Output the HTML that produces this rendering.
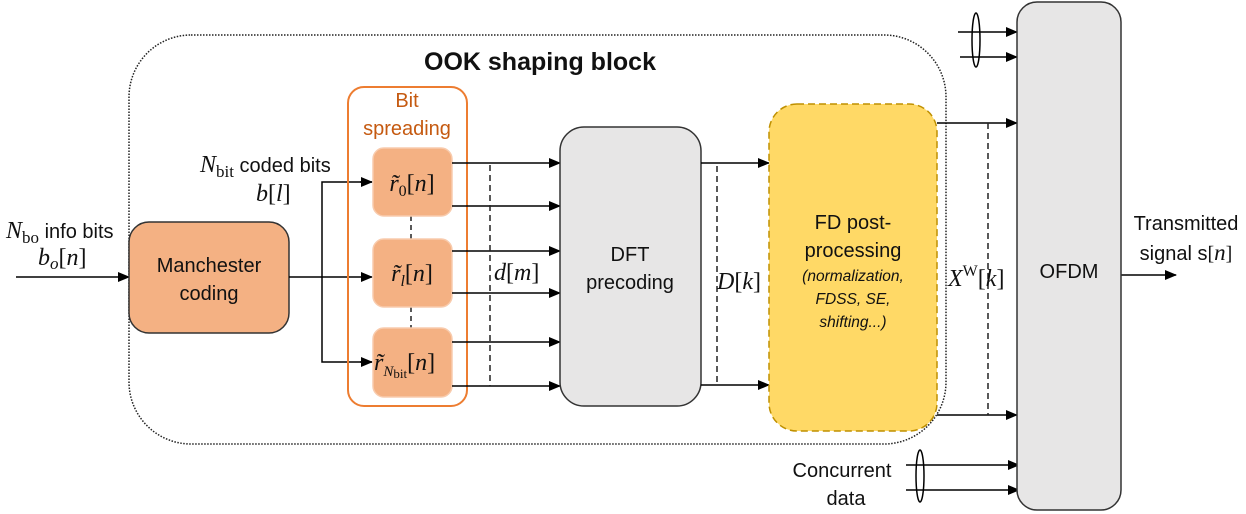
<!DOCTYPE html>
<html><head><meta charset="utf-8"><style>
html,body{margin:0;padding:0;background:#fff;}
svg{display:block;}
.t{font-family:"Liberation Sans",sans-serif;fill:#111;}
.m{font-family:"Liberation Serif",serif;font-style:italic;fill:#111;}
.r{font-family:"Liberation Serif",serif;fill:#111;}
</style></head><body>
<svg width="1246" height="514" viewBox="0 0 1246 514" xmlns="http://www.w3.org/2000/svg">
<defs>
<marker id="a" markerWidth="12" markerHeight="10" refX="11" refY="5" orient="auto" markerUnits="userSpaceOnUse">
<path d="M0,0 L12,5 L0,10 z" fill="#000"/></marker>
</defs>
<rect x="129" y="35" width="817" height="409" rx="62" fill="none" stroke="#222" stroke-width="1.5" stroke-dasharray="1.5 1.5"/>
<text x="540" y="70" text-anchor="middle" class="t" font-size="25" font-weight="bold">OOK shaping block</text>

<line x1="16" y1="277" x2="129" y2="277" stroke="#000" stroke-width="1.5" marker-end="url(#a)"/>
<text x="6" y="238" class="m" font-size="24">N<tspan class="r" font-style="normal" font-size="17" dy="5">bo</tspan><tspan class="t" font-style="normal" font-size="20" dy="-5"> info bits</tspan></text>
<text x="38" y="265" class="m" font-size="24">b<tspan font-size="17" dy="4">o</tspan><tspan class="r" font-style="normal" dy="-4">[</tspan>n<tspan class="r" font-style="normal">]</tspan></text>

<rect x="129" y="222" width="160" height="111" rx="20" fill="#f4b183" stroke="#333" stroke-width="1.5"/>
<text x="209" y="272" text-anchor="middle" class="t" font-size="20">Manchester</text>
<text x="209" y="300" text-anchor="middle" class="t" font-size="20">coding</text>

<line x1="289" y1="277" x2="372" y2="277" stroke="#000" stroke-width="1.5" marker-end="url(#a)"/>
<polyline points="372,182 322,182 322,362 372,362" fill="none" stroke="#000" stroke-width="1.5"/>
<line x1="360" y1="182" x2="372" y2="182" stroke="#000" stroke-width="1.5" marker-end="url(#a)"/>
<line x1="360" y1="362" x2="372" y2="362" stroke="#000" stroke-width="1.5" marker-end="url(#a)"/>
<text x="200" y="172" class="m" font-size="24">N<tspan class="r" font-style="normal" font-size="17" dy="5">bit</tspan><tspan class="t" font-style="normal" font-size="20" dy="-5"> coded bits</tspan></text>
<text x="256" y="201" class="m" font-size="24">b<tspan class="r" font-style="normal">[</tspan>l<tspan class="r" font-style="normal">]</tspan></text>

<rect x="348" y="87" width="119" height="319" rx="16" fill="none" stroke="#ed7d31" stroke-width="2"/>
<text x="407" y="107" text-anchor="middle" class="t" font-size="20" style="fill:#c55a11">Bit</text>
<text x="407" y="135" text-anchor="middle" class="t" font-size="20" style="fill:#c55a11">spreading</text>
<line x1="411" y1="216" x2="411" y2="239" stroke="#222" stroke-width="1.5" stroke-dasharray="5 4"/>
<line x1="411" y1="307" x2="411" y2="328" stroke="#222" stroke-width="1.5" stroke-dasharray="5 4"/>
<rect x="373" y="148" width="79" height="68" rx="11" fill="#f4b183" stroke="#f8cbad" stroke-width="1.5"/>
<rect x="373" y="239" width="79" height="68" rx="11" fill="#f4b183" stroke="#f8cbad" stroke-width="1.5"/>
<rect x="373" y="328" width="79" height="69" rx="11" fill="#f4b183" stroke="#f8cbad" stroke-width="1.5"/>
<text x="412" y="191" text-anchor="middle" class="m" font-size="24">r̃<tspan class="r" font-style="normal" font-size="16" dy="5">0</tspan><tspan class="r" font-style="normal" dy="-5">[</tspan>n<tspan class="r" font-style="normal">]</tspan></text>
<text x="412" y="281" text-anchor="middle" class="m" font-size="24">r̃<tspan font-size="16" dy="5">l</tspan><tspan class="r" font-style="normal" dy="-5">[</tspan>n<tspan class="r" font-style="normal">]</tspan></text>
<text x="374" y="370" class="m" font-size="24">r̃<tspan font-size="15" dy="6">N</tspan><tspan class="r" font-style="normal" font-size="13" dy="2">bit</tspan><tspan class="r" font-style="normal" dy="-8">[</tspan>n<tspan class="r" font-style="normal">]</tspan></text>

<g stroke="#000" stroke-width="1.5" marker-end="url(#a)">
<line x1="452" y1="163" x2="560" y2="163"/>
<line x1="452" y1="206" x2="560" y2="206"/>
<line x1="452" y1="251" x2="560" y2="251"/>
<line x1="452" y1="293" x2="560" y2="293"/>
<line x1="452" y1="342" x2="560" y2="342"/>
<line x1="452" y1="386" x2="560" y2="386"/>
</g>
<line x1="490" y1="165" x2="490" y2="386" stroke="#222" stroke-width="1.5" stroke-dasharray="6 4"/>
<text x="494" y="280" class="m" font-size="24">d<tspan class="r" font-style="normal">[</tspan>m<tspan class="r" font-style="normal">]</tspan></text>

<rect x="560" y="127" width="141" height="279" rx="24" fill="#e7e6e6" stroke="#333" stroke-width="1.5"/>
<text x="630" y="261" text-anchor="middle" class="t" font-size="20">DFT</text>
<text x="630" y="289" text-anchor="middle" class="t" font-size="20">precoding</text>

<g stroke="#000" stroke-width="1.5" marker-end="url(#a)">
<line x1="701" y1="163" x2="769" y2="163"/>
<line x1="701" y1="385" x2="769" y2="385"/>
</g>
<line x1="717" y1="166" x2="717" y2="385" stroke="#222" stroke-width="1.5" stroke-dasharray="6 4"/>
<text x="717" y="289" class="m" font-size="24">D<tspan class="r" font-style="normal">[</tspan>k<tspan class="r" font-style="normal">]</tspan></text>

<rect x="769" y="104" width="168" height="327" rx="28" fill="#ffd966" stroke="#bf9000" stroke-width="1.5" stroke-dasharray="7 4"/>
<text x="853" y="229" text-anchor="middle" class="t" font-size="20">FD post-</text>
<text x="853" y="257" text-anchor="middle" class="t" font-size="20">processing</text>
<text x="853" y="281" text-anchor="middle" class="t" font-size="15.5" font-style="italic">(normalization,</text>
<text x="853" y="304" text-anchor="middle" class="t" font-size="15.5" font-style="italic">FDSS, SE,</text>
<text x="853" y="327" text-anchor="middle" class="t" font-size="15.5" font-style="italic">shifting...)</text>

<g stroke="#000" stroke-width="1.5" marker-end="url(#a)">
<line x1="937" y1="123" x2="1017" y2="123"/>
<line x1="937" y1="415" x2="1017" y2="415"/>
<line x1="958" y1="32" x2="1017" y2="32"/>
<line x1="960" y1="57" x2="1017" y2="57"/>
<line x1="906" y1="465" x2="1019" y2="465"/>
<line x1="906" y1="490" x2="1019" y2="490"/>
<line x1="1121" y1="275" x2="1176" y2="275"/>
</g>
<line x1="988" y1="123" x2="988" y2="415" stroke="#222" stroke-width="1.5" stroke-dasharray="6 4"/>
<text x="948" y="286" class="m" font-size="24">X<tspan class="r" font-style="normal" font-size="16" dy="-10">W</tspan><tspan class="r" font-style="normal" dy="10">[</tspan>k<tspan class="r" font-style="normal">]</tspan></text>
<ellipse cx="976" cy="40" rx="4" ry="27" fill="none" stroke="#000" stroke-width="1.5"/>
<ellipse cx="920" cy="476" rx="4" ry="26" fill="none" stroke="#000" stroke-width="1.5"/>
<text x="842" y="477" text-anchor="middle" class="t" font-size="20">Concurrent</text>
<text x="846" y="505" text-anchor="middle" class="t" font-size="20">data</text>

<rect x="1017" y="2" width="104" height="508" rx="20" fill="#e7e6e6" stroke="#333" stroke-width="1.5"/>
<text x="1069" y="278" text-anchor="middle" class="t" font-size="20">OFDM</text>
<text x="1186" y="230" text-anchor="middle" class="t" font-size="20">Transmitted</text>
<text x="1186" y="260" text-anchor="middle" class="t" font-size="20">signal s<tspan class="r">[</tspan><tspan class="m" font-size="23">n</tspan><tspan class="r">]</tspan></text>
</svg>
</body></html>
